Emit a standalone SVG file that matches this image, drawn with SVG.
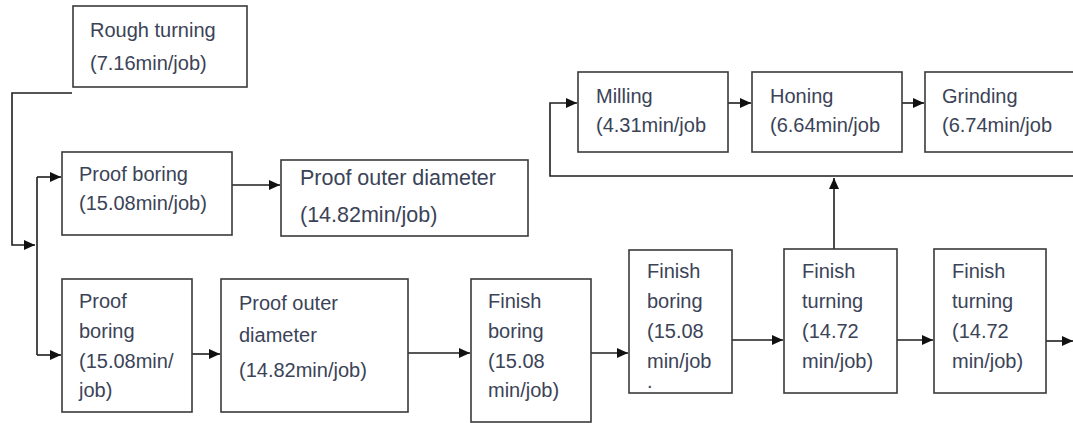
<svg xmlns="http://www.w3.org/2000/svg" width="1073" height="423" viewBox="0 0 1073 423">
<defs>
<style>
.box{fill:#fff;stroke:#3a3a3a;stroke-width:1.6}
.t{font-family:"Liberation Sans",Arial,sans-serif;font-size:20px;fill:#3b4357}
.t2{font-size:21.5px}
.c{fill:none;stroke:#1e1e1e;stroke-width:1.6}
</style>
<marker id="ah" markerUnits="userSpaceOnUse" markerWidth="12" markerHeight="10" refX="11" refY="5" orient="auto">
<path d="M0,0 L11,5 L0,10 Z" fill="#111"/>
</marker>
</defs>
<rect width="1073" height="423" fill="#fff"/>

<g id="connectors">
<path class="c" d="M72,93 H12 V245 H35" marker-end="url(#ah)"/>
<path class="c" d="M37,177 V355"/>
<path class="c" d="M37,177 H61" marker-end="url(#ah)"/>
<path class="c" d="M37,355 H61" marker-end="url(#ah)"/>
<path class="c" d="M232,185 H280" marker-end="url(#ah)"/>
<path class="c" d="M192,354 H220" marker-end="url(#ah)"/>
<path class="c" d="M408,353 H470" marker-end="url(#ah)"/>
<path class="c" d="M591,353 H628" marker-end="url(#ah)"/>
<path class="c" d="M732,340 H783" marker-end="url(#ah)"/>
<path class="c" d="M897,340 H933" marker-end="url(#ah)"/>
<path class="c" d="M1046,341 H1073" marker-end="url(#ah)"/>
<path class="c" d="M834,249 V178" marker-end="url(#ah)"/>
<path class="c" d="M1073,176 H550 V103 H577" marker-end="url(#ah)"/>
<path class="c" d="M728,103 H751" marker-end="url(#ah)"/>
<path class="c" d="M902,103 H924" marker-end="url(#ah)"/>
</g>

<g id="rough-turning">
<rect class="box" x="73" y="6" width="174" height="81"/>
<text class="t" x="90" y="37">Rough turning</text>
<text class="t" x="90" y="70">(7.16min/job)</text>
</g>

<g id="proof-boring-1">
<rect class="box" x="62" y="152" width="170" height="83"/>
<text class="t" x="79" y="181">Proof boring</text>
<text class="t" x="79" y="210">(15.08min/job)</text>
</g>

<g id="proof-outer-1">
<rect class="box" x="281" y="160" width="247" height="76"/>
<text class="t t2" x="300" y="185">Proof outer diameter</text>
<text class="t t2" x="300" y="222">(14.82min/job)</text>
</g>

<g id="proof-boring-2">
<rect class="box" x="62" y="279" width="130" height="133"/>
<text class="t" x="79" y="308">Proof</text>
<text class="t" x="79" y="338">boring</text>
<text class="t" x="79" y="368">(15.08min/</text>
<text class="t" x="79" y="397">job)</text>
</g>

<g id="proof-outer-2">
<rect class="box" x="221" y="279" width="187" height="133"/>
<text class="t" x="239" y="310" font-size="22">Proof outer</text>
<text class="t" x="239" y="342" font-size="22">diameter</text>
<text class="t" x="239" y="377" font-size="22">(14.82min/job)</text>
</g>

<g id="finish-boring-1">
<rect class="box" x="471" y="279" width="120" height="143"/>
<text class="t" x="488" y="308">Finish</text>
<text class="t" x="488" y="338">boring</text>
<text class="t" x="488" y="368">(15.08</text>
<text class="t" x="488" y="397">min/job)</text>
</g>

<g id="finish-boring-2">
<rect class="box" x="629" y="250" width="103" height="143"/>
<text class="t" x="647" y="278">Finish</text>
<text class="t" x="647" y="308">boring</text>
<text class="t" x="647" y="338">(15.08</text>
<text class="t" x="647" y="368">min/job</text>
<text class="t" x="647" y="388" font-size="14">.</text>
</g>

<g id="finish-turning-1">
<rect class="box" x="784" y="249" width="113" height="144"/>
<text class="t" x="802" y="278">Finish</text>
<text class="t" x="802" y="308">turning</text>
<text class="t" x="802" y="338">(14.72</text>
<text class="t" x="802" y="368">min/job)</text>
</g>

<g id="finish-turning-2">
<rect class="box" x="934" y="249" width="112" height="144"/>
<text class="t" x="952" y="278">Finish</text>
<text class="t" x="952" y="308">turning</text>
<text class="t" x="952" y="338">(14.72</text>
<text class="t" x="952" y="368">min/job)</text>
</g>

<g id="milling">
<rect class="box" x="578" y="72" width="150" height="80"/>
<text class="t" x="596" y="103">Milling</text>
<text class="t" x="596" y="132">(4.31min/job</text>
</g>

<g id="honing">
<rect class="box" x="752" y="72" width="150" height="80"/>
<text class="t" x="770" y="103">Honing</text>
<text class="t" x="770" y="132">(6.64min/job</text>
</g>

<g id="grinding">
<rect class="box" x="925" y="72" width="160" height="80"/>
<text class="t" x="942" y="103">Grinding</text>
<text class="t" x="942" y="132">(6.74min/job</text>
</g>
</svg>
